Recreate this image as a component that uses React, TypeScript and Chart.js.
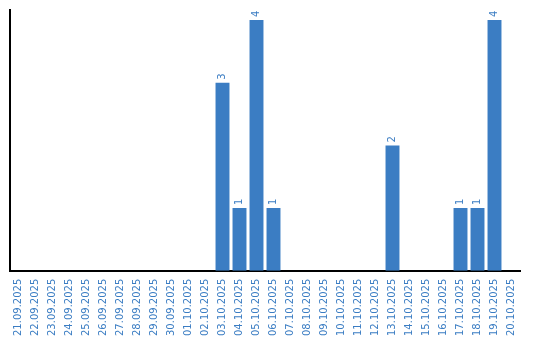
import React, { useEffect, useRef } from "react";
import { Chart, registerables } from "chart.js";

Chart.register(...registerables);

const categories: string[] = [
  "21.09.2025", "22.09.2025", "23.09.2025", "24.09.2025", "25.09.2025",
  "26.09.2025", "27.09.2025", "28.09.2025", "29.09.2025", "30.09.2025",
  "01.10.2025", "02.10.2025", "03.10.2025", "04.10.2025", "05.10.2025",
  "06.10.2025", "07.10.2025", "08.10.2025", "09.10.2025", "10.10.2025",
  "11.10.2025", "12.10.2025", "13.10.2025", "14.10.2025", "15.10.2025",
  "16.10.2025", "17.10.2025", "18.10.2025", "19.10.2025", "20.10.2025",
];

const counts: number[] = [
  0, 0, 0, 0, 0,
  0, 0, 0, 0, 0,
  0, 0, 3, 1, 4,
  1, 0, 0, 0, 0,
  0, 0, 2, 0, 0,
  0, 1, 1, 4, 0,
];

const BLUE = "#3b7dc3";
const FONT = "'DejaVu Sans', sans-serif";

const valueLabels = {
  id: "valueLabels",
  afterDatasetsDraw(chart: any) {
    const ctx = chart.ctx;
    const meta = chart.getDatasetMeta(0);
    const data = chart.data.datasets[0].data as number[];
    ctx.save();
    ctx.fillStyle = BLUE;
    ctx.font = `10px ${FONT}`;
    ctx.textAlign = "left";
    ctx.textBaseline = "middle";
    meta.data.forEach((bar: any, i: number) => {
      const v = data[i];
      if (!v) return;
      ctx.save();
      ctx.translate(bar.x, bar.y - 3);
      ctx.rotate(-Math.PI / 2);
      ctx.fillText(String(v), 0, 0);
      ctx.restore();
    });
    ctx.restore();
  },
};

export default function App() {
  const ref = useRef<HTMLCanvasElement>(null);
  useEffect(() => {
    if (!ref.current) return;
    const chart = new Chart(ref.current, {
      type: "bar",
      data: {
        labels: categories,
        datasets: [
          {
            data: counts,
            backgroundColor: BLUE,
            borderWidth: 0,
            barPercentage: 0.82,
            categoryPercentage: 1,
          },
        ],
      },
      options: {
        animation: false,
        responsive: false,
        layout: { padding: { left: 2, right: 20, top: 10, bottom: 4 } },
        plugins: { legend: { display: false }, tooltip: { enabled: false } },
        scales: {
          x: {
            grid: { display: false },
            border: { display: true, color: "#000", width: 2 },
            ticks: {
              color: BLUE,
              font: { family: FONT, size: 10 },
              minRotation: 90,
              maxRotation: 90,
              autoSkip: false,
              padding: 0,
            },
          },
          y: {
            min: 0,
            max: 4.16,
            grid: { display: false },
            border: { display: true, color: "#000", width: 2 },
            ticks: { display: false },
          },
        },
      },
      plugins: [valueLabels],
    });
    return () => chart.destroy();
  }, []);
  return (
    <div style={{ position: "absolute", left: 0, top: 0, width: 540, height: 340, background: "#fff" }}>
      <canvas ref={ref} width={540} height={340} style={{ display: "block" }} />
    </div>
  );
}
